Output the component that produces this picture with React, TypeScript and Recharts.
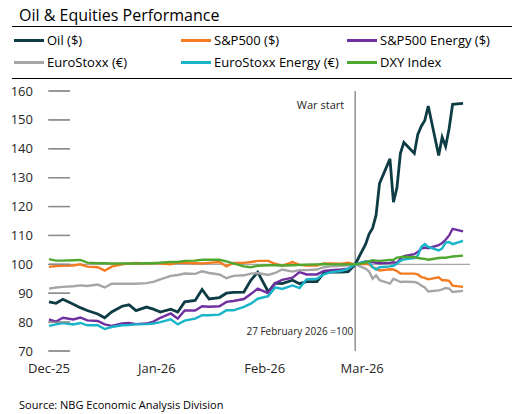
import { LineChart, Line, XAxis, YAxis, ReferenceLine } from "recharts";

// trading days, counted from 1 Dec 2025 (27 Feb 2026 = day 88)
const days = [
  0, 2, 4, 7, 9, 11, 14, 16, 18, 21, 23, 25, 28, 30, 32, 35, 37, 39, 42, 44, 46, 49, 51, 53, 56, 58, 60,
  63, 65, 67, 70, 72, 74, 77, 79, 81, 84, 86, 88,
  91, 92, 93, 94, 95, 98, 99, 100, 101, 102, 105, 106, 107, 108, 109, 112, 113, 114, 115, 116, 119,
];

const oil = [
  87, 86.5, 87.9, 86.2, 85, 84, 82.8, 81.5, 83.5, 85.5, 86, 84, 85.2, 84.5, 83.5, 84.5, 83.5, 87,
  87.5, 91.3, 88, 88.5, 90, 90.3, 90.4, 94.5, 97.3, 90.5, 93.5, 93.3, 94.5, 93.3, 94, 94, 97, 97.3,
  97.3, 97.5, 100,
  107, 110.5, 112.5, 117, 128, 136.5, 121.5, 126.5, 138.4, 142.2, 138.4, 145, 147.8, 149.8, 154.8,
  137.7, 144, 140.8, 147, 155.4, 155.7,
];
const sp500 = [
  99.1, 99.4, 99.5, 99.6, 100, 99.2, 99, 97.8, 99.2, 100, 100.3, 100.5, 100.3, 100.5, 100.3, 100,
  100.6, 100.5, 100.4, 100.3, 100.5, 100.8, 99.3, 100.5, 100.5, 100.8, 101.2, 101.2, 100.2, 99.5,
  100.8, 99.8, 99.6, 99.6, 100.3, 100.3, 100.2, 100.6, 100,
  100.2, 100, 99, 98.5, 97.9, 98.3, 98.2, 97.7, 96.8, 96.8, 96.8, 96.5, 95.6, 95.3, 94.8, 95.5, 94.5,
  94.5, 94.3, 92.6, 92.2,
];
const spEnergy = [
  80.9, 80.2, 81.5, 80.9, 81.6, 80.6, 80.4, 79.2, 78.7, 79.5, 79.7, 79.3, 79.5, 80.2, 81.5, 83, 81.2,
  84, 84, 85.5, 85.3, 85.5, 87, 87.3, 88, 89.7, 91.6, 90, 93.5, 94.6, 95.4, 97.3, 96.5, 96.5, 97.7,
  98, 98.2, 98.5, 100,
  101, 100.9, 100.8, 100.5, 100.4, 100.5, 100.7, 100.5, 102, 102.8, 103.5, 104.3, 105.4, 105.8,
  105.6, 106.6, 107.4, 108.5, 110, 112.3, 111.4,
];
const euroStoxx = [
  91.6, 92, 92.2, 92.4, 92.7, 92.5, 93, 92, 93.3, 93.3, 93.3, 93.3, 93.5, 93.9, 94.8, 96, 96.3, 96.8,
  96.7, 97.6, 97, 96.5, 95.2, 96, 96.2, 96.8, 97, 96.3, 97, 98.2, 97.5, 98, 98, 98.2, 99, 99.3, 99.5,
  99.7, 100,
  98.5, 97.5, 95, 96.2, 94.5, 93.3, 95, 94.5, 93.9, 94, 93.9, 93.5, 92.7, 92, 90.6, 91, 91.3, 91.8,
  91.6, 90.4, 90.8,
];
const euroEnergy = [
  78.7, 79.2, 79.7, 79.2, 79.7, 78.9, 78.9, 77.6, 78.3, 78.9, 79, 79.2, 79.3, 79.5, 80, 81, 79.2,
  80.5, 81.2, 82.4, 82.4, 82.6, 84.1, 84.1, 85.3, 86.4, 88.1, 89, 92, 91.5, 92.7, 91.8, 94.8, 95,
  96.5, 97.3, 97.7, 98.5, 100,
  101, 100.6, 99, 98.2, 99, 99.3, 99.5, 100.2, 101.2, 101.7, 102.2, 103, 106, 107, 106, 104.8, 105.5,
  107.5, 107.7, 107, 108.1,
];
const dxy = [
  101.8, 101.3, 101.3, 101.4, 101.5, 100.6, 100.4, 100.4, 100.3, 100.3, 100.3, 100.3, 100.4, 100.4,
  100.6, 100.8, 100.8, 101.2, 101.3, 101.6, 101.6, 101.6, 101, 100.3, 99.3, 99, 99.5, 99.7, 99.7,
  99.6, 99.7, 99.8, 99.9, 100, 100.1, 100, 100, 100, 100,
  100.6, 101, 101.4, 101.3, 101.2, 101.5, 101.6, 102.3, 102.5, 102.6, 102.5, 102.2, 102, 101.9,
  101.6, 102.2, 102.3, 102.3, 102.5, 102.7, 103,
];

const monthTicks = [0, 31, 62, 90];
const monthLabels = ["Dec-25", "Jan-26", "Feb-26", "Mar-26"];
const yTicks = [70, 80, 90, 100, 110, 120, 130, 140, 150, 160];
const warDay = 88;

const series = [
  { key: "oil", name: "Oil ($)", color: "#0d3c44", values: oil },
  { key: "sp500", name: "S&P500 ($)", color: "#f47b20", values: sp500 },
  { key: "spEnergy", name: "S&P500 Energy ($)", color: "#7030a0", values: spEnergy },
  { key: "euroStoxx", name: "EuroStoxx (€)", color: "#a6a6a6", values: euroStoxx },
  { key: "euroEnergy", name: "EuroStoxx Energy (€)", color: "#18b4c9", values: euroEnergy },
  { key: "dxy", name: "DXY Index", color: "#4ea72e", values: dxy },
];

const data = days.map((d, i) => {
  const row: Record<string, number> = { day: d };
  series.forEach((s) => (row[s.key] = s.values[i]));
  return row;
});

const FONT = "'Open Sans', sans-serif";

const LeftTick = (props: any) => (
  <g>
    <path d={`M${props.x - 1},${props.y}H${props.x + 21}`} stroke="#8a8a8a" strokeWidth={1.3} />
    <text x={props.x - 16} y={props.y} dy="0.35em" textAnchor="end" fontSize={13} fill="#262626" fontFamily={FONT}>
      {props.payload.value}
    </text>
  </g>
);

const RightTick = (props: any) => (
  <g>
    <path d={`M${props.x - 17},${props.y}H${props.x}`} stroke="#6e6e6e" strokeWidth={1.3} />
    <text x={props.x + 13} y={props.y} dy="0.35em" textAnchor="start" fontSize={13} fill="#262626" fontFamily={FONT}>
      {props.payload.value}
    </text>
  </g>
);

const WarLabel = (props: any) => {
  const { viewBox } = props;
  return (
    <g fontFamily={FONT} fill="#262626">
      <text x={viewBox.x - 11} y={viewBox.y + 18} textAnchor="end" fontSize={11}>
        War start
      </text>
      <text x={viewBox.x - 2} y={viewBox.y + viewBox.height - 16} textAnchor="end" fontSize={10}>
        27 February 2026 =100
      </text>
    </g>
  );
};

export default function App() {
  return (
    <div style={{ position: "absolute", left: 0, top: 0, width: 517, height: 414, fontFamily: FONT, color: "#000" }}>
      <div style={{ position: "absolute", left: 19, top: 6, fontSize: 16, lineHeight: "18px" }}>
        Oil &amp; Equities Performance
      </div>
      <div style={{ position: "absolute", left: 12, top: 26, width: 500, borderTop: "1px solid #000" }} />
      {series.map((s, i) => (
        <div
          key={s.key}
          style={{
            position: "absolute",
            left: [14, 181, 347][i % 3],
            top: i < 3 ? 31 : 53,
            height: 18,
            display: "flex",
            alignItems: "center",
            fontSize: 13,
            whiteSpace: "nowrap",
          }}
        >
          <span style={{ display: "inline-block", width: 30, height: 3, background: s.color, marginRight: 3 }} />
          {s.name}
        </div>
      ))}
      <div style={{ position: "absolute", left: 12, top: 78, width: 500, borderTop: "1px solid #000" }} />

      <div style={{ position: "absolute", left: 0, top: 0 }}>
        <LineChart width={517} height={414} data={data} margin={{ top: 91, right: 0, bottom: 33, left: 0 }}>
          <XAxis
            dataKey="day"
            type="number"
            domain={[0, 121]}
            ticks={monthTicks}
            tickFormatter={(v: number) => monthLabels[monthTicks.indexOf(v)]}
            axisLine={false}
            tickSize={0}
            tickMargin={13}
            height={30}
            tick={{ fontSize: 13, fill: "#262626", fontFamily: FONT }}
          />
          <YAxis
            yAxisId="left"
            domain={[70, 160]}
            ticks={yTicks}
            width={49}
            axisLine={false}
            tickSize={0}
            tickMargin={0}
            tick={<LeftTick />}
            interval={0}
          />
          <YAxis
            yAxisId="right"
            orientation="right"
            domain={[70, 160]}
            ticks={yTicks}
            width={47}
            axisLine={false}
            tickSize={0}
            tickMargin={0}
            tick={<RightTick />}
            interval={0}
          />
          {/* short left-hand grid stubs, as in the original */}
          {yTicks.map((v) => (
            <ReferenceLine
              key={`stub-${v}`}
              yAxisId="left"
              segment={[
                { x: 0, y: v },
                { x: 6, y: v },
              ]}
              stroke="#8a8a8a"
              strokeWidth={1.3}
            />
          ))}
          <ReferenceLine yAxisId="left" y={100} stroke="#a6a6a6" strokeWidth={1.3} />
          <ReferenceLine yAxisId="left" x={warDay} stroke="#808080" strokeWidth={1.3} label={<WarLabel />} />
          {series.map((s) => (
            <Line
              key={s.key}
              yAxisId="left"
              type="linear"
              dataKey={s.key}
              stroke={s.color}
              strokeWidth={s.key === "oil" ? 2.8 : 2.4}
              dot={false}
              isAnimationActive={false}
            />
          ))}
        </LineChart>
      </div>

      <div style={{ position: "absolute", left: 19, top: 398, fontSize: 11, lineHeight: "14px" }}>
        Source: NBG Economic Analysis Division
      </div>
    </div>
  );
}
